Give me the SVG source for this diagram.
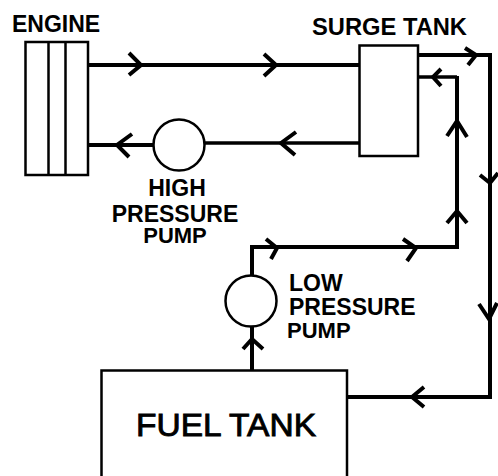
<svg xmlns="http://www.w3.org/2000/svg" width="498" height="476" viewBox="0 0 498 476">
<style>
.box{fill:#fff;stroke:#000;stroke-width:2.5}
.pipe{fill:none;stroke:#000;stroke-width:4}
.thin{stroke-width:3.3}
.arrow{fill:none;stroke:#000;stroke-width:4}
text{font-family:"Liberation Sans",Arial,sans-serif;font-weight:bold;fill:#000;font-size:23px}
text.small{font-size:22px}
text.big{font-size:32px;font-weight:normal;stroke:#000;stroke-width:.9}
</style>
<rect width="498" height="476" fill="#fff"/>
<g id="connectors">
<path class="pipe" d="M88 65H359"/>
<path class="pipe" d="M88 145H153"/>
<path class="pipe thin" d="M205 143H359"/>
<path class="pipe" d="M418 55H490V397H347"/>
<path class="pipe thin" d="M418 77H457"/>
<path class="pipe" d="M457 76V247H252V276"/>
<path class="pipe" d="M252 326V370"/>
<path class="arrow" d="M129 53L141 65L129 75"/>
<path class="arrow" d="M264 54L276 65L264 76"/>
<path class="arrow" d="M132 134L117 145L129 157"/>
<path class="arrow" d="M296 132L281 143L295 155"/>
<path class="arrow" d="M465 48L476 55L468 65"/>
<path class="arrow" d="M480 175L490 183L498 173"/>
<path class="arrow" d="M479 304L489 319L497 303"/>
<path class="arrow" d="M424 387L412 397L424 407"/>
<path class="arrow" d="M441 69L433 77L441 86"/>
<path class="arrow" d="M447 136L457 121L467 137"/>
<path class="arrow" d="M447 223L457 211L467 223"/>
<path class="arrow" d="M266 239L277 248L271 259"/>
<path class="arrow" d="M403 239L416 248L407 261"/>
<path class="arrow" d="M243 349L252 339L263 349"/>
</g>
<g id="engine">
<rect class="box" x="25.500" y="42" width="62.500" height="133"/>
<path class="box" d="M48.500 42V175M65.500 42V175"/>
<text x="12" y="32">ENGINE</text>
</g>
<g id="surge-tank">
<rect class="box" x="359.500" y="45.500" width="58.500" height="110.500"/>
<text x="312" y="35" textLength="155" lengthAdjust="spacingAndGlyphs">SURGE TANK</text>
</g>
<g id="high-pressure-pump">
<circle class="box" cx="179" cy="145" r="25.500"/>
<text x="177" y="196" text-anchor="middle">HIGH</text>
<text x="175" y="222" text-anchor="middle">PRESSURE</text>
<text class="small" x="175" y="243" text-anchor="middle">PUMP</text>
</g>
<g id="low-pressure-pump">
<circle class="box" cx="251" cy="301" r="25.500"/>
<text x="289" y="291">LOW</text>
<text x="289" y="315">PRESSURE</text>
<text class="small" x="287" y="338">PUMP</text>
</g>
<g id="fuel-tank">
<rect class="box" x="101.500" y="370.500" width="245.500" height="120"/>
<text class="big" x="136" y="436" textLength="180" lengthAdjust="spacingAndGlyphs">FUEL TANK</text>
</g>
</svg>
